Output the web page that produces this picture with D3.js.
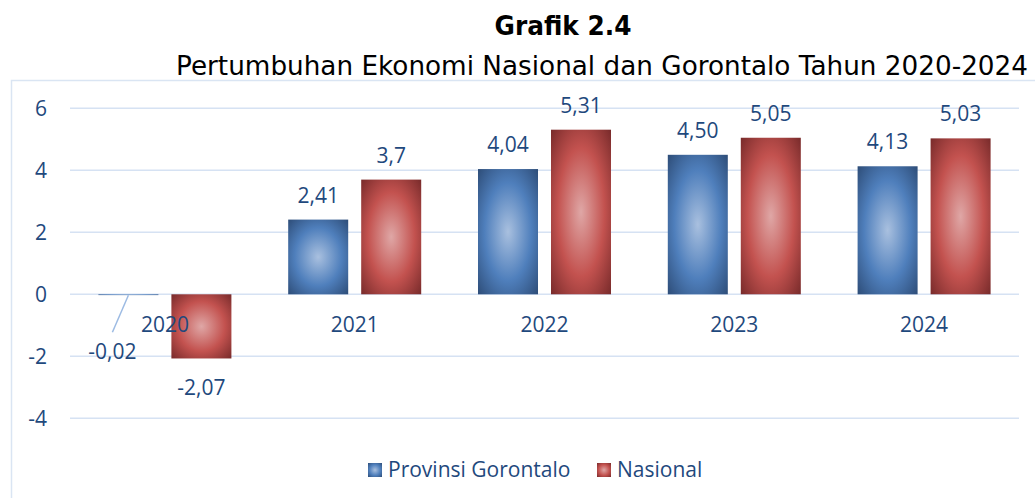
<!DOCTYPE html>
<html>
<head>
<meta charset="utf-8">
<script src="https://cdn.jsdelivr.net/npm/d3@7/dist/d3.min.js"></script>
<style>
  html, body { margin: 0; padding: 0; background: #fff; }
  svg { display: block; }
</style>
</head>
<body>
<svg id="chart" width="1035" height="498"></svg>
<script>
const years = ["2020", "2021", "2022", "2023", "2024"];
const gorontalo = [-0.02, 2.41, 4.04, 4.50, 4.13];
const nasional = [-2.07, 3.7, 5.31, 5.05, 5.03];
const gorontaloLabels = ["-0,02", "2,41", "4,04", "4,50", "4,13"];
const nasionalLabels = ["-2,07", "3,7", "5,31", "5,05", "5,03"];
const yTicks = [-4, -2, 0, 2, 4, 6];
const seriesNames = ["Provinsi Gorontalo", "Nasional"];

const svg = d3.select("#chart");
const textColor = "#1f497d";
const gridColor = "#d6e2f3";
const labelFont = "'Open Sans', 'Noto Sans', sans-serif";
const fs = 21;

// chart border (only left/top visible)
svg.append("rect").attr("x", 11.5).attr("y", 80.5).attr("width", 1040).attr("height", 440)
  .attr("fill", "none").attr("stroke", "#dae5f3").attr("stroke-width", 1.5);

// gradients
const defs = svg.append("defs");
function grad(id, c0, c1, c2) {
  const g = defs.append("radialGradient").attr("id", id)
    .attr("cx", "50%").attr("cy", "50%").attr("r", "71%");
  g.append("stop").attr("offset", "0%").attr("stop-color", c0);
  g.append("stop").attr("offset", "55%").attr("stop-color", c1);
  g.append("stop").attr("offset", "100%").attr("stop-color", c2);
}
grad("gBlue", "#a9c0df", "#4f7fbc", "#2d4c77");
grad("gRed", "#dfa7a6", "#c3524f", "#772a2a");

// title
svg.append("text").attr("x", 563).attr("y", 35).attr("text-anchor", "middle")
  .attr("font-family", "'DejaVu Sans', sans-serif").attr("font-weight", "bold")
  .attr("font-size", 26).attr("fill", "#000")
  .attr("textLength", 137).attr("lengthAdjust", "spacingAndGlyphs")
  .text("Grafik 2.4");
svg.append("text").attr("x", 176).attr("y", 75)
  .attr("font-family", "'DejaVu Sans', sans-serif")
  .attr("font-size", 26).attr("fill", "#000")
  .attr("textLength", 852).attr("lengthAdjust", "spacingAndGlyphs")
  .text("Pertumbuhan Ekonomi Nasional dan Gorontalo Tahun 2020-2024");

// scales
const x = d3.scaleBand().domain(years).range([70, 1019]).paddingInner(0).paddingOuter(0);
const xInner = d3.scaleBand().domain([0, 1]).range([0, x.bandwidth()])
  .paddingInner(0.178).paddingOuter(0.389);
const y = d3.scaleLinear().domain([-4, 6]).range([418.3, 108.3]);

// gridlines
svg.append("g").selectAll("line").data(yTicks).join("line")
  .attr("x1", 70).attr("x2", 1019)
  .attr("y1", d => y(d)).attr("y2", d => y(d))
  .attr("stroke", gridColor).attr("stroke-width", 1.5);

// y axis labels
const yAxis = d3.axisLeft(y).tickValues(yTicks).tickSize(0).tickPadding(0)
  .tickFormat(d => d);
const yg = svg.append("g").attr("transform", "translate(47,0)").call(yAxis);
yg.select(".domain").remove();
yg.selectAll("text").attr("font-family", labelFont).attr("font-size", fs)
  .attr("fill", textColor).attr("dy", "0.35em");

// bars
const series = [
  { vals: gorontalo, labels: gorontaloLabels, fill: "url(#gBlue)", idx: 0 },
  { vals: nasional, labels: nasionalLabels, fill: "url(#gRed)", idx: 1 }
];
series.forEach(s => {
  svg.append("g").selectAll("rect").data(years).join("rect")
    .attr("x", (d) => x(d) + xInner(s.idx))
    .attr("width", xInner.bandwidth())
    .attr("y", (d, i) => Math.min(y(s.vals[i]), y(0)))
    .attr("height", (d, i) => Math.max(Math.abs(y(s.vals[i]) - y(0)), 0.8))
    .attr("fill", s.fill);
});

// category labels
svg.append("g").selectAll("text").data(years).join("text")
  .attr("x", d => x(d) + x.bandwidth() / 2)
  .attr("y", y(0) + 38)
  .attr("text-anchor", "middle")
  .attr("font-family", labelFont).attr("font-size", fs).attr("fill", textColor)
  .text(d => d);

// value labels
series.forEach(s => {
  years.forEach((yr, i) => {
    const v = s.vals[i];
    const cx = x(yr) + xInner(s.idx) + xInner.bandwidth() / 2;
    let tx = cx, ty;
    if (v >= 0) ty = y(v) - 17;
    else ty = y(v) + 37;
    if (s.idx === 0 && i === 0) {
      // small negative value: label pulled out with leader line
      tx = cx - 16; ty = y(0) + 65;
      svg.append("line").attr("x1", cx).attr("y1", y(0) + 1)
        .attr("x2", cx - 16).attr("y2", y(0) + 38)
        .attr("stroke", "#9dbbe3").attr("stroke-width", 1.5);
    }
    svg.append("text").attr("x", tx).attr("y", ty).attr("text-anchor", "middle")
      .attr("font-family", labelFont).attr("font-size", fs).attr("fill", textColor)
      .text(s.labels[i]);
  });
});

// legend
const legend = svg.append("g");
const legendItems = [
  { name: seriesNames[0], fill: "url(#gBlue)", x: 368 },
  { name: seriesNames[1], fill: "url(#gRed)", x: 597 }
];
legendItems.forEach(it => {
  legend.append("rect").attr("x", it.x).attr("y", 463).attr("width", 14).attr("height", 14)
    .attr("fill", it.fill);
  legend.append("text").attr("x", it.x + 20).attr("y", 477)
    .attr("font-family", labelFont).attr("font-size", fs).attr("fill", textColor)
    .text(it.name);
});
</script>
</body>
</html>
